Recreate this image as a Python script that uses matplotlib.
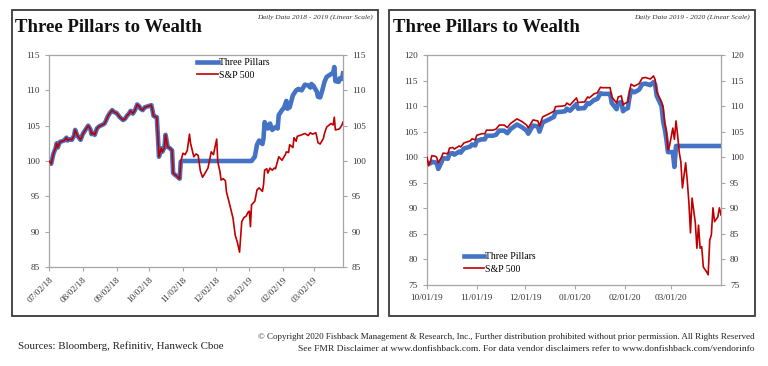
import matplotlib
matplotlib.use("Agg")
import matplotlib.pyplot as plt
import matplotlib.dates as mdates
from matplotlib.patches import Rectangle
import pandas as pd

# ---------------- data: left chart (2018-2019) ----------------
left_common_dates = [
    "2018-07-02", "2018-07-04", "2018-07-06", "2018-07-08", "2018-07-09", "2018-07-10",
    "2018-07-12", "2018-07-14", "2018-07-16", "2018-07-18", "2018-07-19", "2018-07-21",
    "2018-07-23", "2018-07-25", "2018-07-26", "2018-07-28", "2018-07-30", "2018-07-31",
    "2018-08-02", "2018-08-04", "2018-08-07", "2018-08-09", "2018-08-10", "2018-08-11",
    "2018-08-13", "2018-08-15", "2018-08-17", "2018-08-21", "2018-08-22", "2018-08-23",
    "2018-08-25", "2018-08-27", "2018-08-29", "2018-08-31", "2018-09-02", "2018-09-03",
    "2018-09-05", "2018-09-08", "2018-09-10", "2018-09-12", "2018-09-13", "2018-09-15",
    "2018-09-17", "2018-09-19", "2018-09-21", "2018-09-23", "2018-09-24", "2018-09-26",
    "2018-09-28", "2018-09-30", "2018-10-02", "2018-10-04", "2018-10-05", "2018-10-06",
    "2018-10-07", "2018-10-09", "2018-10-10", "2018-10-11", "2018-10-13", "2018-10-14",
    "2018-10-16", "2018-10-17", "2018-10-19", "2018-10-21", "2018-10-23", "2018-10-24",
    "2018-10-26", "2018-10-28", "2018-10-29", "2018-10-30", "2018-10-31",
]
left_common_vals = [
    100.0, 99.6, 101.0, 101.8, 102.5, 101.9,
    102.7, 102.8, 102.9, 103.3, 102.9, 103.1,
    103.0, 103.6, 104.4, 103.6, 103.2, 103.0,
    103.8, 104.3, 105.0, 104.5, 103.8, 104.0,
    103.7, 104.6, 104.9, 105.2, 105.3, 105.6,
    106.3, 106.8, 107.2, 106.9, 106.8, 106.6,
    106.2, 105.8, 106.0, 106.5, 106.6, 107.1,
    106.7, 107.2, 108.0, 107.7, 107.4, 107.2,
    107.6, 107.7, 107.8, 107.9, 107.2, 106.4,
    106.3, 106.2, 103.5, 100.6, 101.8, 101.3,
    101.9, 103.7, 102.0, 101.8, 101.5, 98.3,
    98.0, 97.8, 97.6, 97.5, 99.9,
]
left_sp_tail_dates = [
    "2018-11-02", "2018-11-04", "2018-11-06", "2018-11-08", "2018-11-09", "2018-11-12",
    "2018-11-14", "2018-11-16", "2018-11-18", "2018-11-20", "2018-11-22", "2018-11-25",
    "2018-11-28", "2018-11-30", "2018-12-03", "2018-12-04", "2018-12-06", "2018-12-07",
    "2018-12-09", "2018-12-11", "2018-12-12", "2018-12-15", "2018-12-18", "2018-12-20",
    "2018-12-22", "2018-12-24", "2018-12-26", "2018-12-28", "2018-12-30", "2019-01-01",
    "2019-01-02", "2019-01-03", "2019-01-04", "2019-01-07", "2019-01-09", "2019-01-11",
    "2019-01-14", "2019-01-15", "2019-01-16", "2019-01-18", "2019-01-19", "2019-01-21",
    "2019-01-23", "2019-01-25", "2019-01-26", "2019-01-28", "2019-01-29", "2019-02-01",
    "2019-02-04", "2019-02-05", "2019-02-07", "2019-02-08", "2019-02-11", "2019-02-12",
    "2019-02-14", "2019-02-15", "2019-02-19", "2019-02-22", "2019-02-25", "2019-02-27",
    "2019-03-01", "2019-03-04", "2019-03-05", "2019-03-06", "2019-03-08", "2019-03-11",
    "2019-03-12", "2019-03-14", "2019-03-18", "2019-03-20", "2019-03-21", "2019-03-22",
    "2019-03-25", "2019-03-26", "2019-03-28", "2019-03-29",
]
left_sp_tail_vals = [
    101.1, 100.9, 101.5, 103.8, 102.5, 100.6,
    101.0, 100.8, 98.6, 97.7, 98.2, 99.0,
    101.3, 100.9, 103.1, 99.9, 98.5, 97.3,
    97.5, 97.2, 95.6, 93.8, 91.9, 89.5,
    88.5, 87.1, 91.4, 92.0, 92.2, 92.8,
    92.9, 90.7, 93.8, 94.3, 95.9, 96.2,
    95.7, 96.6, 98.7, 98.9, 98.3, 99.0,
    98.7, 99.0, 98.9, 100.0, 100.6, 100.1,
    100.9, 101.3, 101.2, 102.3, 101.9, 103.3,
    102.8, 103.5, 103.7, 103.9, 103.6, 104.0,
    103.8, 104.0, 103.4, 102.6, 102.4, 103.2,
    103.9, 104.8, 105.3, 105.1, 106.2, 104.4,
    104.5, 104.6, 105.1, 105.5,
]
left_tp_tail_dates = [
    "2018-11-01", "2019-01-04", "2019-01-07", "2019-01-09", "2019-01-11", "2019-01-14",
    "2019-01-15", "2019-01-16", "2019-01-18", "2019-01-19", "2019-01-21", "2019-01-23",
    "2019-01-26", "2019-01-28", "2019-01-29", "2019-02-01", "2019-02-03", "2019-02-05",
    "2019-02-06", "2019-02-08", "2019-02-11", "2019-02-14", "2019-02-16", "2019-02-19",
    "2019-02-22", "2019-02-25", "2019-02-27", "2019-02-28", "2019-03-02", "2019-03-05",
    "2019-03-06", "2019-03-08", "2019-03-10", "2019-03-12", "2019-03-14", "2019-03-18",
    "2019-03-20", "2019-03-21", "2019-03-22", "2019-03-25", "2019-03-26", "2019-03-28",
    "2019-03-29",
]
left_tp_tail_vals = [
    100.0, 100.0, 100.6, 102.3, 102.9, 102.4,
    103.2, 105.5, 104.9, 104.6, 105.3, 104.4,
    104.8, 104.6, 106.5, 107.2, 107.6, 108.5,
    107.4, 107.6, 109.3, 110.0, 110.2, 110.0,
    110.8, 110.7, 110.4, 110.9, 110.6, 109.8,
    109.1, 109.0, 110.0, 111.2, 111.9, 112.3,
    112.5, 113.3, 111.3, 111.2, 111.7, 111.6,
    112.4,
]
left_ticks = ["2018-07-02", "2018-08-02", "2018-09-02", "2018-10-02", "2018-11-02",
              "2018-12-02", "2019-01-02", "2019-02-02", "2019-03-02"]
left_xlim = ["2018-07-02", "2019-03-29"]

# ---------------- data: right chart (2019-2020) ----------------
right_sp_dates = [
    "2019-10-01", "2019-10-02", "2019-10-03", "2019-10-04", "2019-10-06", "2019-10-07",
    "2019-10-08", "2019-10-10", "2019-10-11", "2019-10-14", "2019-10-15", "2019-10-17",
    "2019-10-18", "2019-10-21", "2019-10-22", "2019-10-24", "2019-10-28", "2019-10-29",
    "2019-10-31", "2019-11-01", "2019-11-04", "2019-11-06", "2019-11-07", "2019-11-11",
    "2019-11-13", "2019-11-15", "2019-11-18", "2019-11-20", "2019-11-22", "2019-11-26",
    "2019-11-29", "2019-12-02", "2019-12-03", "2019-12-06", "2019-12-09", "2019-12-10",
    "2019-12-12", "2019-12-16", "2019-12-19", "2019-12-20", "2019-12-24", "2019-12-26",
    "2019-12-27", "2019-12-29", "2020-01-02", "2020-01-03", "2020-01-06", "2020-01-07",
    "2020-01-09", "2020-01-10", "2020-01-13", "2020-01-15", "2020-01-17", "2020-01-18",
    "2020-01-22", "2020-01-23", "2020-01-24", "2020-01-27", "2020-01-28", "2020-01-30",
    "2020-01-31", "2020-02-01", "2020-02-03", "2020-02-04", "2020-02-05", "2020-02-07",
    "2020-02-10", "2020-02-12", "2020-02-14", "2020-02-17", "2020-02-18", "2020-02-19",
    "2020-02-20", "2020-02-21", "2020-02-24", "2020-02-25", "2020-02-26", "2020-02-27",
    "2020-02-28", "2020-02-29", "2020-03-01", "2020-03-02", "2020-03-03", "2020-03-04",
    "2020-03-05", "2020-03-06", "2020-03-07", "2020-03-08", "2020-03-10", "2020-03-11",
    "2020-03-12", "2020-03-13", "2020-03-14", "2020-03-16", "2020-03-17", "2020-03-18",
    "2020-03-19", "2020-03-20", "2020-03-21", "2020-03-23", "2020-03-24", "2020-03-25",
    "2020-03-26", "2020-03-27", "2020-03-28", "2020-03-30", "2020-03-31", "2020-04-01",
]
right_sp_vals = [
    100.0, 98.3, 99.0, 100.3, 100.2, 100.0,
    98.9, 100.0, 100.8, 100.7, 101.8, 101.9,
    101.6, 102.2, 102.0, 102.8, 103.2, 103.6,
    103.4, 104.3, 104.6, 104.6, 105.3, 105.3,
    105.5, 106.3, 106.3, 105.8, 106.6, 107.5,
    107.0, 106.3, 105.7, 107.3, 107.1, 106.1,
    107.9, 108.5, 109.0, 109.9, 110.0, 110.1,
    110.6, 110.2, 111.6, 110.7, 110.8, 110.8,
    111.8, 111.6, 112.4, 112.6, 113.7, 113.6,
    113.6, 113.6, 111.8, 110.6, 111.8, 112.0,
    110.2, 110.5, 110.8, 112.8, 114.3, 113.9,
    114.4, 115.5, 115.6, 115.3, 115.6, 115.9,
    115.2, 112.8, 110.8, 109.7, 106.7, 105.0,
    101.4, 102.3, 104.0, 105.7, 103.5, 107.1,
    104.3, 101.0, 99.1, 94.0, 98.9, 95.4,
    91.2, 85.2, 92.0, 87.2, 82.2, 86.7,
    82.2, 82.5, 78.5, 77.6, 77.0, 83.8,
    84.8, 90.1, 87.4, 88.3, 90.1, 88.7,
]
right_tp_dates = [
    "2019-10-01", "2019-10-02", "2019-10-03", "2019-10-04", "2019-10-06", "2019-10-07",
    "2019-10-08", "2019-10-10", "2019-10-11", "2019-10-14", "2019-10-15", "2019-10-17",
    "2019-10-18", "2019-10-21", "2019-10-22", "2019-10-24", "2019-10-28", "2019-10-29",
    "2019-10-31", "2019-11-01", "2019-11-04", "2019-11-06", "2019-11-07", "2019-11-11",
    "2019-11-13", "2019-11-15", "2019-11-18", "2019-11-20", "2019-11-22", "2019-11-26",
    "2019-11-29", "2019-12-02", "2019-12-03", "2019-12-06", "2019-12-09", "2019-12-10",
    "2019-12-12", "2019-12-16", "2019-12-19", "2019-12-20", "2019-12-24", "2019-12-26",
    "2019-12-27", "2019-12-29", "2020-01-02", "2020-01-03", "2020-01-06", "2020-01-07",
    "2020-01-09", "2020-01-10", "2020-01-13", "2020-01-15", "2020-01-17", "2020-01-18",
    "2020-01-22", "2020-01-23", "2020-01-24", "2020-01-27", "2020-01-28", "2020-01-30",
    "2020-01-31", "2020-02-01", "2020-02-03", "2020-02-04", "2020-02-05", "2020-02-07",
    "2020-02-10", "2020-02-12", "2020-02-14", "2020-02-17", "2020-02-18", "2020-02-19",
    "2020-02-20", "2020-02-21", "2020-02-24", "2020-02-25", "2020-02-26", "2020-02-27",
    "2020-02-28", "2020-03-02", "2020-03-03", "2020-03-04", "2020-04-01",
]
right_tp_vals = [
    99.0, 98.8, 98.8, 99.1, 99.0, 98.9,
    97.7, 99.0, 99.8, 99.7, 100.7, 100.8,
    100.5, 101.1, 100.9, 101.7, 102.1, 102.5,
    102.3, 103.2, 103.5, 103.5, 104.2, 104.2,
    104.4, 105.2, 105.2, 104.7, 105.5, 106.4,
    105.9, 105.2, 104.6, 106.2, 106.0, 105.0,
    106.8, 107.4, 107.9, 108.8, 108.9, 109.0,
    109.5, 109.1, 110.4, 109.5, 109.6, 109.6,
    110.6, 110.4, 111.2, 111.4, 112.5, 112.4,
    112.4, 112.4, 110.6, 109.4, 110.6, 110.8,
    109.0, 109.3, 109.6, 111.6, 113.1, 112.7,
    113.2, 114.3, 114.4, 114.1, 114.4, 114.7,
    114.2, 112.0, 110.0, 107.0, 105.5, 103.5,
    101.0, 101.0, 98.1, 102.2, 102.2,
]
right_ticks = ["2019-10-01", "2019-11-01", "2019-12-01", "2020-01-01", "2020-02-01", "2020-03-01"]
right_xlim = ["2019-10-01", "2020-04-01"]

series_names = ["Three Pillars", "S&P 500"]
title_text = "Three Pillars to Wealth"
left_sub = "Daily Data 2018 - 2019 (Linear Scale)"
right_sub = "Daily Data 2019 - 2020 (Linear Scale)"
sources_text = "Sources: Bloomberg, Refinitiv, Hanweck Cboe"
copy1 = ("\u00a9 Copyright 2020 Fishback Management & Research, Inc., Further distribution "
         "prohibited without prior permission. All Rights Reserved")
copy2 = ("See FMR Disclaimer at www.donfishback.com. For data vendor disclaimers refer to "
         "www.donfishback.com/vendorinfo")

# ---------------- styling ----------------
SERIF = ["Liberation Serif", "DejaVu Serif"]
plt.rcParams["font.family"] = SERIF
BLUE = "#4472C4"
RED = "#C00000"
SPINE = "#A6A6A6"
TXT = "#333333"

W, H = 768, 366
fig = plt.figure(figsize=(W / 100, H / 100), dpi=100)
fig.patch.set_facecolor("white")


def fx(px):
    return px / W


def fy(py):
    return 1 - py / H


def D(lst):
    return pd.to_datetime(lst)


# panel boxes
for x0, x1 in [(12, 378), (389, 755)]:
    fig.patches.append(Rectangle((fx(x0), fy(316)), fx(x1) - fx(x0), fy(10) - fy(316),
                                 transform=fig.transFigure, fill=False,
                                 edgecolor="#3a3a3a", linewidth=1.3, zorder=0))

# titles
for x0, x1, sub in [(15, 373, left_sub), (393, 750, right_sub)]:
    fig.text(fx(x0), fy(32), title_text, fontsize=13.5, fontweight="bold",
             color="#111111", ha="left", va="baseline")
    fig.text(fx(x1), fy(19), sub, fontsize=5.3, style="italic", color=TXT,
             ha="right", va="baseline")


def style_axes(ax):
    for s in ax.spines.values():
        s.set_color(SPINE)
        s.set_linewidth(0.9)
    ax.tick_params(axis="both", colors=SPINE, labelcolor=TXT, labelsize=6.6,
                   length=3, width=0.8, direction="out")
    ax.tick_params(axis="y", right=True, labelright=True, pad=3.5)
    ax.grid(False)


LEG = dict(frameon=False, prop={"family": SERIF, "size": 7}, handlelength=2.1,
           handletextpad=0.1, labelspacing=0.35, borderaxespad=0, borderpad=0)

# ---------------- left chart ----------------
axL = fig.add_axes([fx(49), fy(267), fx(343) - fx(49), fy(55) - fy(267)])
tp_dates_L = D(left_common_dates + left_tp_tail_dates)
tp_vals_L = left_common_vals + left_tp_tail_vals
sp_dates_L = D(left_common_dates + left_sp_tail_dates)
sp_vals_L = left_common_vals + left_sp_tail_vals
axL.plot(tp_dates_L, tp_vals_L, color=BLUE, lw=3.3, solid_joinstyle="round",
         label=series_names[0], zorder=2)
axL.plot(sp_dates_L, sp_vals_L, color=RED, lw=1.2, label=series_names[1], zorder=3)
axL.set_ylim(85, 115)
axL.set_yticks(range(85, 116, 5))
axL.set_xlim(D(left_xlim))
axL.set_xticks(D(left_ticks))
axL.xaxis.set_major_formatter(mdates.DateFormatter("%m/%d/%y"))
style_axes(axL)
for lbl in axL.get_xticklabels():
    lbl.set_rotation(45)
    lbl.set_ha("right")
    lbl.set_rotation_mode("anchor")
axL.legend(loc="upper left", bbox_to_anchor=(0.505, 0.985), **LEG)

# ---------------- right chart ----------------
axR = fig.add_axes([fx(427), fy(285), fx(721) - fx(427), fy(55) - fy(285)])
axR.plot(D(right_tp_dates), right_tp_vals, color=BLUE, lw=3.3, solid_joinstyle="round",
         label=series_names[0], zorder=2)
axR.plot(D(right_sp_dates), right_sp_vals, color=RED, lw=1.2, label=series_names[1], zorder=3)
axR.set_ylim(75, 120)
axR.set_yticks(range(75, 121, 5))
axR.set_xlim(D(right_xlim))
axR.set_xticks(D(right_ticks))
axR.xaxis.set_major_formatter(mdates.DateFormatter("%m/%d/%y"))
style_axes(axR)
axR.legend(loc="lower left", bbox_to_anchor=(0.125, 0.05), **LEG)

# ---------------- footer ----------------
fig.text(fx(18), fy(346), sources_text, fontsize=7.8, color="#222222",
         ha="left", va="center")
fig.text(fx(755), fy(337), copy1, fontsize=6.5, color="#222222", ha="right", va="center")
fig.text(fx(755), fy(349), copy2, fontsize=6.8, color="#222222", ha="right", va="center")

fig.savefig("out.png", dpi=100, facecolor="white")
